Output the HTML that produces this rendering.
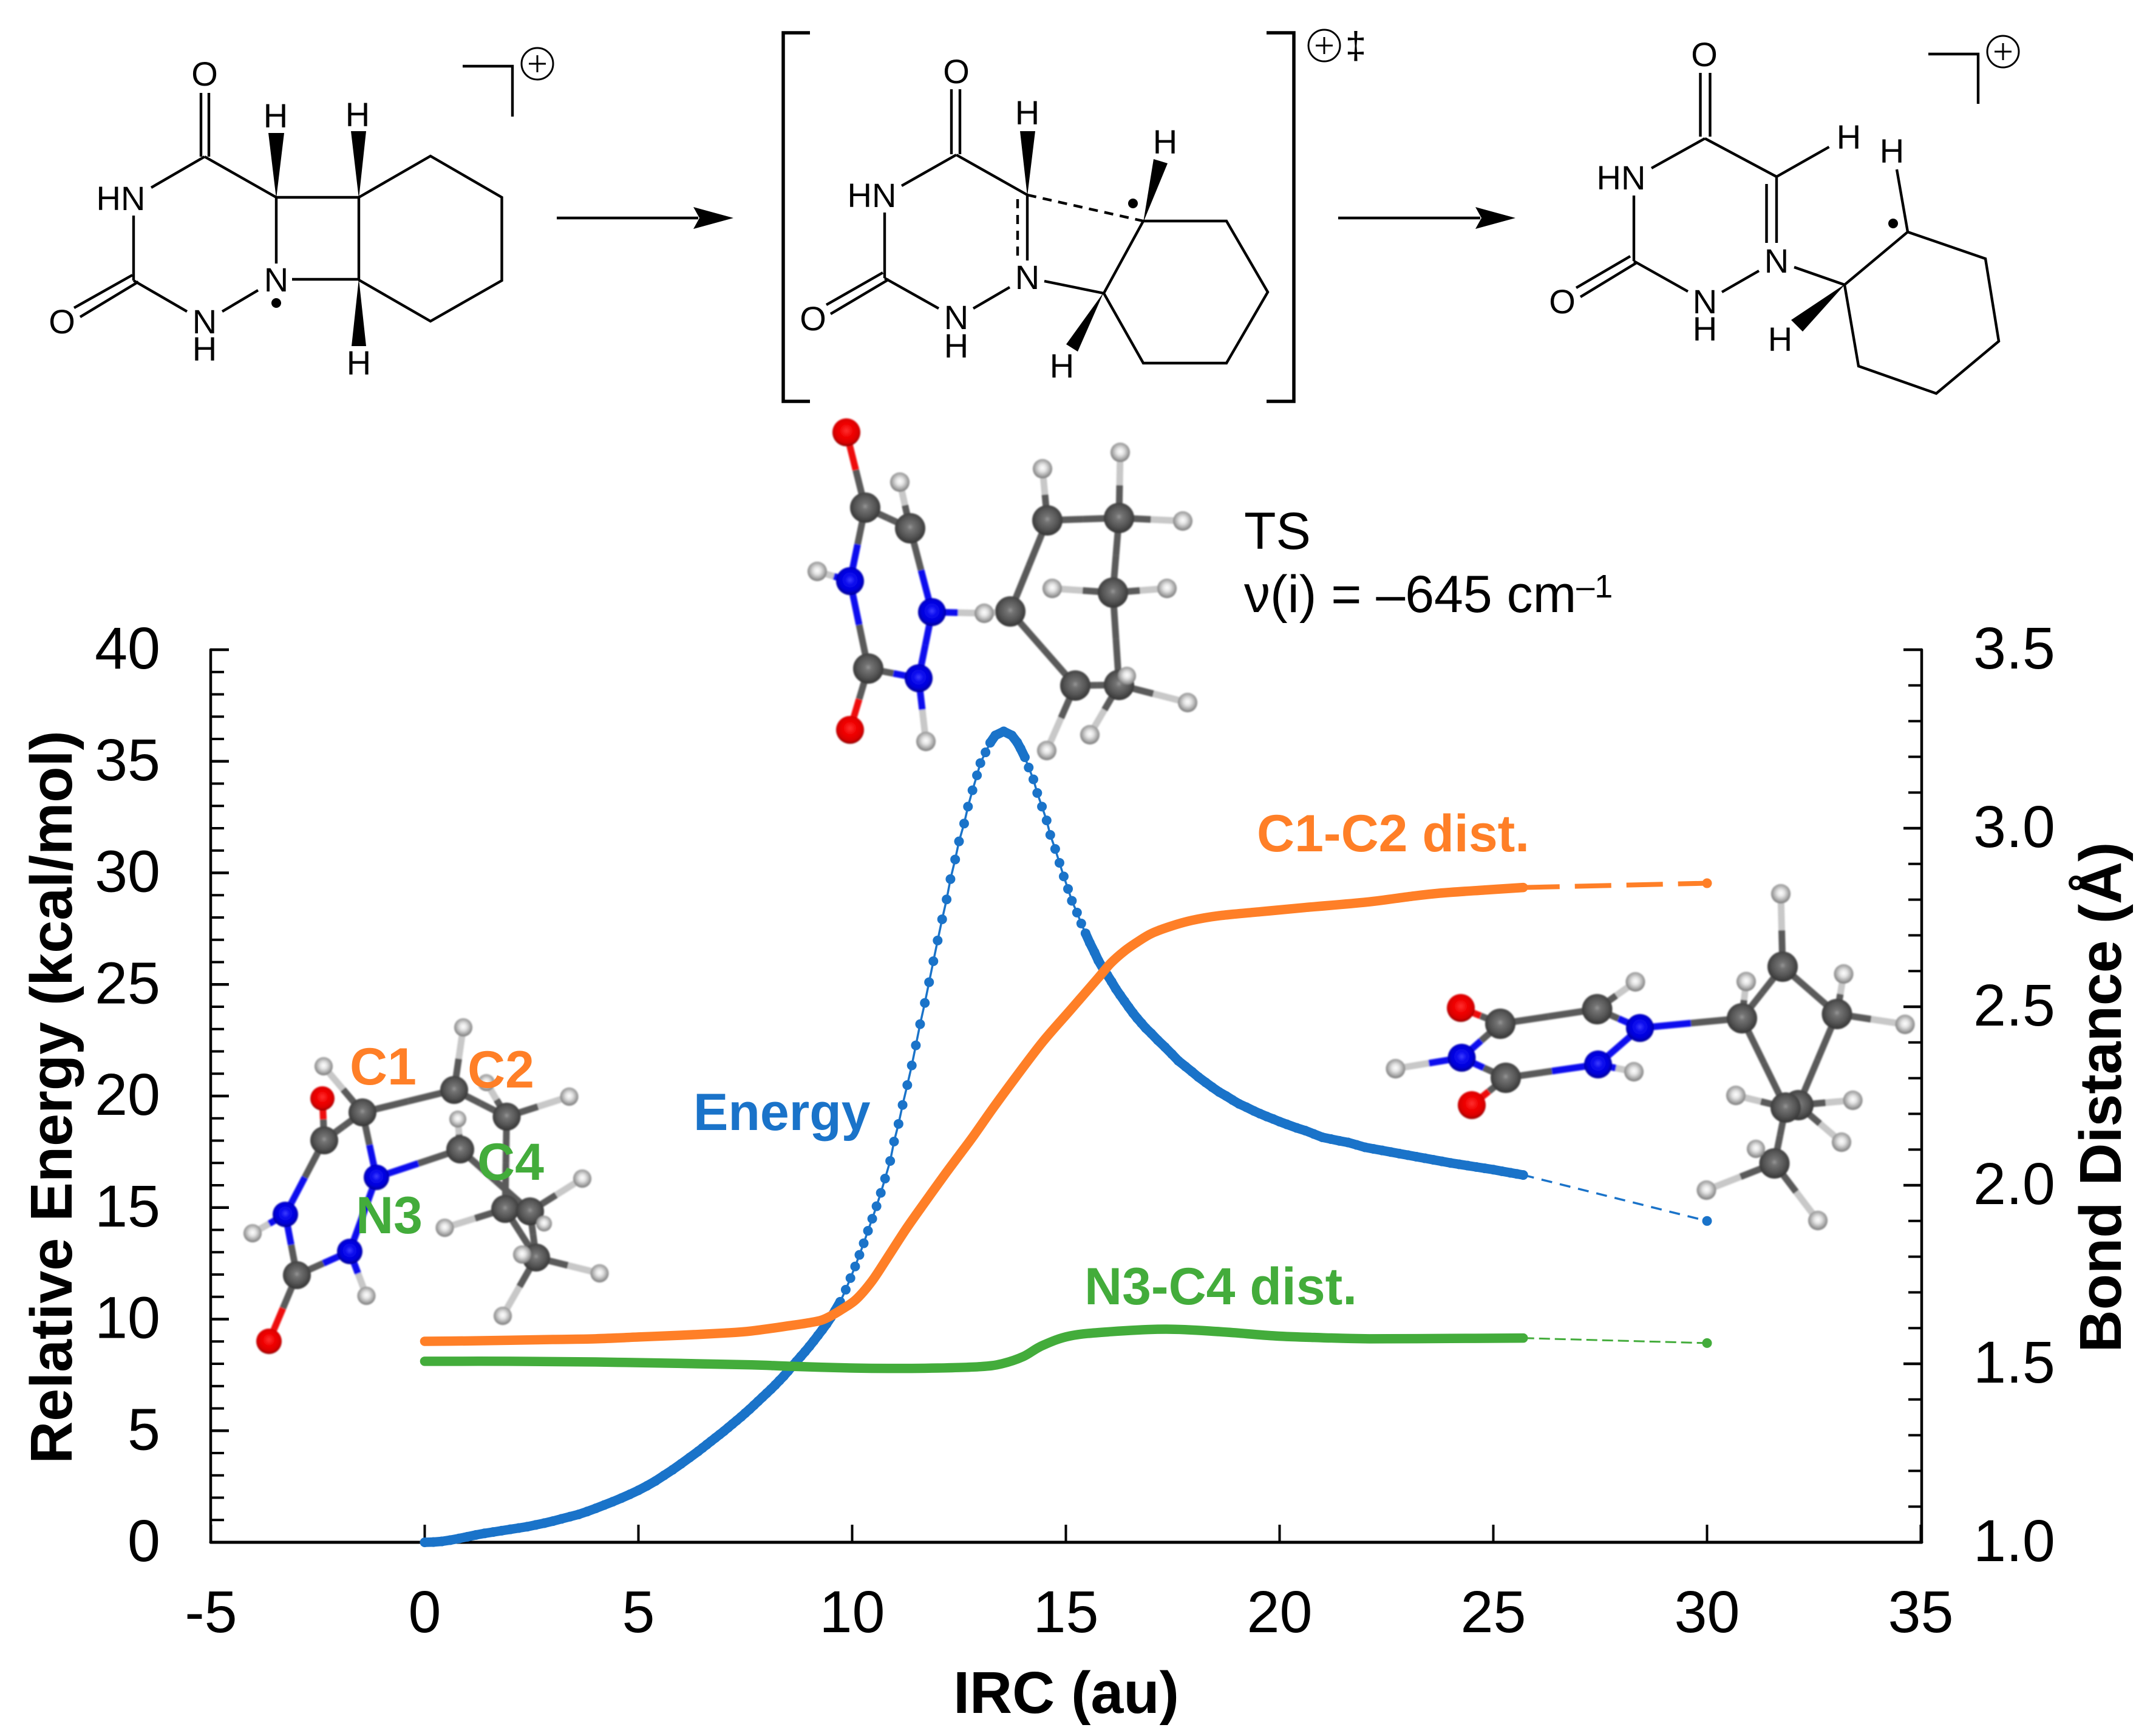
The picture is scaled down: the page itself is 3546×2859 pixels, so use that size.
<!DOCTYPE html>
<html lang="en">
<head>
<meta charset="utf-8">
<title>IRC energy and bond distance profile</title>
<style>
html,body{margin:0;padding:0;background:#fff;}
svg{display:block;}
text{font-family:"Liberation Sans",Arial,sans-serif;}
.chem{font-size:56px;text-anchor:middle;fill:#000;}
.bond{fill:none;stroke:#000;stroke-width:4.4;}
.tick{font-size:97px;fill:#000;}
.title{font-size:97px;font-weight:bold;fill:#000;text-anchor:middle;}
.lab{font-size:86px;font-weight:bold;}
</style>
</head>
<body>
<svg id="fig" xmlns="http://www.w3.org/2000/svg" width="3546" height="2859" viewBox="0 0 3546 2859">
<defs>
<radialGradient id="gC" cx=".5" cy=".46" r=".56"><stop offset="0" stop-color="#9a9a9a"/><stop offset=".18" stop-color="#747474"/><stop offset=".62" stop-color="#545454"/><stop offset="1" stop-color="#303030"/></radialGradient>
<radialGradient id="gH" cx=".5" cy=".46" r=".56"><stop offset="0" stop-color="#ffffff"/><stop offset=".35" stop-color="#e2e2e2"/><stop offset=".75" stop-color="#a0a0a0"/><stop offset="1" stop-color="#6c6c6c"/></radialGradient>
<radialGradient id="gN" cx=".5" cy=".46" r=".56"><stop offset="0" stop-color="#4040ff"/><stop offset=".3" stop-color="#0c0cf0"/><stop offset=".7" stop-color="#0000d8"/><stop offset="1" stop-color="#00008c"/></radialGradient>
<radialGradient id="gO" cx=".5" cy=".44" r=".56"><stop offset="0" stop-color="#ff3030"/><stop offset=".45" stop-color="#f00000"/><stop offset=".8" stop-color="#d80000"/><stop offset="1" stop-color="#8c0000"/></radialGradient>
<filter id="soft" x="-5%" y="-5%" width="110%" height="110%"><feGaussianBlur stdDeviation="1.4"/></filter>
</defs>
<rect x="0" y="0" width="3546" height="2859" fill="#fff"/>

<!-- Reactant structure -->
<g>
<path class="bond" d="M331 153V258M344 153V258M337 258L249 309M337 258L455 325M455 325H591M455 325V434M591 325V461M591 325L709 257L826.5 325V462L709 529L591 461M481 460H591M220 355V462M220 462L308 513M366 513L425 478M218 453L122 507M228 464L132 522"/>
<path fill="#000" d="M455 327L442 219H468ZM591 327L578 216H603ZM591 459L579 570H603Z"/>
<circle cx="455" cy="499" r="8" fill="#000"/>
<text class="chem" x="337" y="141">O</text>
<text class="chem" x="454" y="210">H</text>
<text class="chem" x="589" y="208">H</text>
<text class="chem" x="199" y="346">HN</text>
<text class="chem" x="455" y="480">N</text>
<text class="chem" x="337" y="549">N</text>
<text class="chem" x="337" y="594">H</text>
<text class="chem" x="102" y="549">O</text>
<text class="chem" x="591" y="617">H</text>
<path class="bond" d="M762 109H844V192"/>
<g><circle cx="885" cy="105" r="26" fill="none" stroke="#000" stroke-width="3"/><path d="M871 105H899M885 91V119" stroke="#000" stroke-width="3"/></g>
</g>

<g><path d="M917 359H1150" stroke="#000" stroke-width="4.5"/><path d="M1208 359L1142 341L1152 359L1142 377Z" fill="#000"/></g>

<!-- Transition state structure -->
<g>
<path class="bond" d="M1567 147V254M1581 147V254M1575 255L1485 306M1575 255L1692 321M1692 321V429M1457 350V458M1457 458L1546 508M1603 508L1663 473M1454 449L1361 502M1464 460L1368 517M1720 463L1818 483M1883 364H2020L2088 481L2020 598H1883L1818 483L1883 364"/>
<path class="bond" stroke-dasharray="15 11" d="M1676 328V431M1692 321L1883 364"/>
<path fill="#000" d="M1692 323L1680 216H1705ZM1883 366L1900 262L1923 269ZM1818 481L1756 567L1775 579Z"/>
<circle cx="1866" cy="335" r="8" fill="#000"/>
<text class="chem" x="1575" y="137">O</text>
<text class="chem" x="1692" y="205">H</text>
<text class="chem" x="1919" y="253">H</text>
<text class="chem" x="1436" y="341">HN</text>
<text class="chem" x="1692" y="476">N</text>
<text class="chem" x="1575" y="542">N</text>
<text class="chem" x="1575" y="589">H</text>
<text class="chem" x="1339" y="544">O</text>
<text class="chem" x="1749" y="622">H</text>
<path class="bond" style="stroke-width:5.5" d="M1334 54H1290V661H1334"/>
<path class="bond" style="stroke-width:5.5" d="M2086 54H2131V661H2086"/>
<g><circle cx="2181" cy="75" r="26" fill="none" stroke="#000" stroke-width="3"/><path d="M2167 75H2195M2181 61V89" stroke="#000" stroke-width="3"/></g>
<text x="2233" y="96" font-size="62" text-anchor="middle">‡</text>
</g>

<g><path d="M2204 359H2438" stroke="#000" stroke-width="4.5"/><path d="M2496 359L2430 341L2440 359L2430 377Z" fill="#000"/></g>

<!-- Product structure -->
<g>
<path class="bond" d="M2800.5 120V225M2816.5 120V225M2808 228L2720 277M2808 228L2926 291M2926 291L3012.5 242M2909.5 303V400M2926 291V400M2691 322V430M2691 430L2780 480M2836 481L2897 446M2685 422L2596 474M2695 433L2603 489M2955 440L3038 469M3038 469L3142 382L3270 426L3292 562L3189 648L3061 603L3038 469M3124 279L3142 382"/>
<path fill="#000" d="M3040 467L2950 527L2969 546Z"/>
<circle cx="3118" cy="368" r="8" fill="#000"/>
<text class="chem" x="2807" y="109">O</text>
<text class="chem" x="3045" y="245">H</text>
<text class="chem" x="3116" y="268">H</text>
<text class="chem" x="2670" y="312">HN</text>
<text class="chem" x="2926" y="449">N</text>
<text class="chem" x="2808" y="516">N</text>
<text class="chem" x="2808" y="561">H</text>
<text class="chem" x="2573" y="516">O</text>
<text class="chem" x="2932" y="578">H</text>
<path class="bond" d="M3176 89H3258V171"/>
<g><circle cx="3299" cy="85" r="26" fill="none" stroke="#000" stroke-width="3"/><path d="M3285 85H3313M3299 71V99" stroke="#000" stroke-width="3"/></g>
</g>

<!-- Chart frame -->
<g id="axes"></g>
<g id="molecules" filter="url(#soft)"></g>
<g id="series"></g>

<!-- Annotations -->
<text x="2049" y="904" font-size="86">TS</text>
<text x="2049" y="1008" font-size="86">ν(i) = –645 cm<tspan font-size="54" dy="-24">–1</tspan></text>
<text class="lab" x="1142" y="1861" fill="#1a73c9">Energy</text>
<text class="lab" x="2070" y="1402" fill="#ff7f27">C1-C2 dist.</text>
<text class="lab" x="1786" y="2148" fill="#43ac3b">N3-C4 dist.</text>
<text class="lab" x="576" y="1786" fill="#ff7f27">C1</text>
<text class="lab" x="770" y="1791" fill="#ff7f27">C2</text>
<text class="lab" x="786" y="1943" fill="#43ac3b">C4</text>
<text class="lab" x="586" y="2031" fill="#43ac3b">N3</text>
<text class="title" transform="translate(118 1807) rotate(-90)" x="0" y="0">Relative Energy (kcal/mol)</text>
<text class="title" transform="translate(3493 1807) rotate(-90)" x="0" y="0">Bond Distance (Å)</text>
<text class="title" x="1756" y="2821">IRC (au)</text>

<script>
/* ---------- chart data ---------- */
const xTickValues = [-5, 0, 5, 10, 15, 20, 25, 30, 35];
const energyTickValues = [0, 5, 10, 15, 20, 25, 30, 35, 40];
const distanceTickLabels = ["1.0", "1.5", "2.0", "2.5", "3.0", "3.5"];

const energyIrc = [
0,.2,.4,.6,.8,1,1.2,1.4,1.6,1.8,2,2.2,2.4,2.6,2.8,3,3.2,3.4,3.6,3.8,
4,4.2,4.4,4.6,4.8,5,5.2,5.4,5.6,5.8,6,6.2,6.4,6.5,6.6,6.7,6.8,6.9,7,7.1,
7.2,7.3,7.4,7.5,7.6,7.7,7.8,7.9,8,8.1,8.2,8.3,8.4,8.5,8.6,8.7,8.8,8.9,9,9.1,
9.2,9.3,9.4,9.5,9.6,9.72,9.85,9.96,10.07,10.17,10.27,10.37,10.47,10.57,10.67,10.77,10.89,
10.98,11.085,11.18,11.29,11.395,11.49,11.59,11.7,11.8,11.9,12,12.105,12.21,12.3,12.41,12.5,12.62,12.71,12.815,12.92,13,13.12,13.23,13.35,13.545,
13.735,13.86,13.94,14.04,14.13,14.24,14.33,14.44,14.55,14.635,14.75,14.85,14.95,15.05,15.14,15.26,15.36,15.46,15.56,15.67,15.76,15.87,
15.97,16.07,16.17,16.27,16.37,16.47,16.57,16.67,16.77,16.87,17,17.15,17.32,17.48,17.63,17.8,17.95,18.1,18.27,18.42,18.585,18.75,18.9,19.05,19.22,
19.4,19.54,19.7,19.85,20,20.17,20.4,20.6,20.8,21,21.2,21.4,21.6,21.8,22,22.2,22.4,22.6,22.8,23,
23.2,23.4,23.6,23.8,24,24.2,24.4,24.6,24.8,25,25.2,25.4,25.55,25.7];
const energyKcal = [
0,.01,.04,.1,.17,.25,.33,.4,.46,.52,.58,.64,.7,.78,.86,.95,1.05,1.15,1.25,1.38,
1.52,1.67,1.82,1.98,2.15,2.33,2.53,2.75,3,3.25,3.52,3.8,4.08,4.23,4.38,4.53,4.68,4.83,4.98,5.14,
5.3,5.46,5.62,5.79,5.96,6.14,6.32,6.5,6.68,6.86,7.05,7.25,7.45,7.67,7.9,8.11,8.33,8.55,8.78,9.02,
9.27,9.52,9.78,10.07,10.38,10.78,11.32,11.84,12.36,12.88,13.4,13.96,14.5,15.06,15.66,16.3,17.09,
17.96,18.75,19.6,20.49,21.37,22.27,23.22,24.17,25.1,26.04,26.97,27.92,28.81,29.72,30.6,31.41,32.21,32.97,33.7,34.37,34.92,35.4,35.83,36.16,36.34,
36.16,35.85,35.57,35.18,34.72,34.19,33.58,32.97,32.35,31.7,31.07,30.45,29.84,29.28,28.75,28.22,27.73,27.29,26.86,26.44,26.07,25.71,
25.42,25.12,24.8,24.52,24.25,23.98,23.72,23.48,23.26,23.04,22.8,22.5,22.19,21.88,21.58,21.32,21.09,20.85,20.61,20.4,20.18,20,19.82,19.65,19.5,
19.33,19.21,19.08,18.97,18.85,18.73,18.57,18.45,18.3,18.15,18.07,17.99,17.92,17.81,17.7,17.63,17.56,17.49,17.42,17.35,
17.28,17.21,17.14,17.07,17,16.94,16.88,16.82,16.76,16.7,16.63,16.56,16.51,16.46];
const energyTailIrc = [25.7, 30];
const energyTailKcal = [16.46, 14.4];

const c1c2Irc = [0,1,2,3,4,5,6,7,7.65,8.56,9,9.28,9.5,9.74,10.09,10.46,10.82,11.27,11.73,12.18,12.54,12.82,13.32,13.83,14.46,15.1,15.73,16.05,16.37,16.68,17,17.44,17.95,18.585,19.54,20.6,22.03,23,23.74,24.8,25.7];
const c1c2Dist = [1.563,1.564,1.566,1.568,1.57,1.575,1.58,1.586,1.592,1.607,1.615,1.622,1.634,1.651,1.68,1.731,1.796,1.879,1.957,2.032,2.09,2.135,2.22,2.303,2.402,2.49,2.577,2.622,2.656,2.682,2.705,2.725,2.742,2.755,2.766,2.778,2.793,2.808,2.818,2.827,2.834];
const c1c2TailIrc = [25.7, 30];
const c1c2TailDist = [2.834, 2.846];

const n3c4Irc = [0,2,4,6,7.65,8.56,10,11,12,13,13.5,14,14.45,15.1,16.06,17.35,18.6,19.9,21,22.1,24,25.7];
const n3c4Dist = [1.507,1.507,1.505,1.501,1.497,1.493,1.488,1.487,1.488,1.492,1.5,1.52,1.551,1.578,1.59,1.597,1.59,1.578,1.573,1.57,1.571,1.572];
const n3c4TailIrc = [25.7, 30];
const n3c4TailDist = [1.572, 1.558];

/* ---------- axis functions ---------- */
const NS = "http://www.w3.org/2000/svg";
const xAxis = v => 699.5 + 70.4 * v;
const energyAxis = v => 2540 - 36.75 * v;
const distanceAxis = v => 2540 - 588 * (v - 1);
const axesG = document.getElementById("axes");
const seriesG = document.getElementById("series");

function svgLine(parent, x1, y1, x2, y2, color, width, dash) {
  const l = document.createElementNS(NS, "line");
  l.setAttribute("x1", x1);
  l.setAttribute("y1", y1);
  l.setAttribute("x2", x2);
  l.setAttribute("y2", y2);
  l.setAttribute("stroke", color);
  l.setAttribute("stroke-width", width);
  l.setAttribute("stroke-linecap", dash ? "butt" : "round");
  if (dash) l.setAttribute("stroke-dasharray", dash);
  parent.appendChild(l);
  return l;
}
function svgText(parent, x, y, str, anchor) {
  const t = document.createElementNS(NS, "text");
  t.setAttribute("x", x);
  t.setAttribute("y", y);
  t.setAttribute("class", "tick");
  t.setAttribute("text-anchor", anchor);
  t.textContent = str;
  parent.appendChild(t);
  return t;
}
function smoothPath(px, py) {
  let d = "M" + px[0] + " " + py[0];
  for (let i = 0; i < px.length - 1; i++) {
    const a = Math.max(i - 1, 0), b = Math.min(i + 2, px.length - 1);
    const c1x = px[i] + (px[i + 1] - px[a]) / 6, c1y = py[i] + (py[i + 1] - py[a]) / 6;
    const c2x = px[i + 1] - (px[b] - px[i]) / 6, c2y = py[i + 1] - (py[b] - py[i]) / 6;
    d += "C" + c1x + " " + c1y + " " + c2x + " " + c2y + " " + px[i + 1] + " " + py[i + 1];
  }
  return d;
}

/* axis lines */
const leftSpine = svgLine(axesG, 347, 1070, 347, 2540, "#000", 4.5);


const rightSpine = svgLine(axesG, 3165, 1070, 3165, 2540, "#000", 4.5);


const bottomSpine = svgLine(axesG, 347, 2540, 3165, 2540, "#000", 5);



/* x ticks */
xTickValues.forEach(v => {
  const tk = svgLine(axesG, xAxis(v), 2540, xAxis(v), 2511, "#000", 4);
  tk.setAttribute("stroke-linecap", "butt");
  
  
  const lb = svgText(axesG, xAxis(v), 2688, String(v), "middle");
  
  
});

/* left y ticks: minor each 1 kcal/mol */
for (let i = 0; i <= 40; i++) {
  const major = i % 5 === 0;
  const tk = svgLine(axesG, 347, energyAxis(i), 347 + (major ? 30 : 22), energyAxis(i), "#000", major ? 4.5 : 4);
  tk.setAttribute("stroke-linecap", "butt");
  
  
}
energyTickValues.forEach(v => {
  const lb = svgText(axesG, 264, energyAxis(v) + 31, String(v), "end");
  
  
});

/* right y ticks: minor each 0.1 A */
for (let i = 0; i <= 25; i++) {
  const major = i % 5 === 0;
  const d = 1 + i / 10;
  const tk = svgLine(axesG, 3165, distanceAxis(d), 3165 - (major ? 30 : 22), distanceAxis(d), "#000", major ? 4.5 : 4);
  tk.setAttribute("stroke-linecap", "butt");
  
  
}
distanceTickLabels.forEach(s => {
  const lb = svgText(axesG, 3250, distanceAxis(parseFloat(s)) + 31, s, "start");
  
  
});

/* series */
function drawSeries(name, color, xs, ys, tailX, tailY, yAxisFn, thickGap, tailWidth, tailDash) {
  const g = document.createElementNS(NS, "g");
  
  
  seriesG.appendChild(g);
  const px = xs.map(xAxis);
  const py = ys.map(yAxisFn);
  if (thickGap === null) {
    const band = document.createElementNS(NS, "path");
    band.setAttribute("d", smoothPath(px, py));
    band.setAttribute("fill", "none");
    band.setAttribute("stroke", color);
    band.setAttribute("stroke-width", 15.5);
    band.setAttribute("stroke-linecap", "round");
    
    
    g.appendChild(band);
  } else {
    for (let i = 1; i < px.length; i++) {
      const gap = Math.hypot(px[i] - px[i - 1], py[i] - py[i - 1]);
      const seg = svgLine(g, px[i - 1], py[i - 1], px[i], py[i], color, gap <= thickGap ? 15.5 : 3.5);
      
      
    }
    for (let i = 0; i < px.length; i++) {
      const c = document.createElementNS(NS, "circle");
      c.setAttribute("cx", px[i]);
      c.setAttribute("cy", py[i]);
      c.setAttribute("r", 8);
      c.setAttribute("fill", color);
      
      
      g.appendChild(c);
    }
  }
  const tail = svgLine(g, xAxis(tailX[0]), yAxisFn(tailY[0]), xAxis(tailX[1]), yAxisFn(tailY[1]), color, tailWidth, tailDash);
  
  
  const end = document.createElementNS(NS, "circle");
  end.setAttribute("cx", xAxis(tailX[1]));
  end.setAttribute("cy", yAxisFn(tailY[1]));
  end.setAttribute("r", 8);
  end.setAttribute("fill", color);
  
  
  g.appendChild(end);
}
drawSeries("energy", "#1a73c9", energyIrc, energyKcal, energyTailIrc, energyTailKcal, energyAxis, 17.5, 3.5, "18 13");
drawSeries("c1-c2-distance", "#ff7f27", c1c2Irc, c1c2Dist, c1c2TailIrc, c1c2TailDist, distanceAxis, null, 8, "60 25");
drawSeries("n3-c4-distance", "#43ac3b", n3c4Irc, n3c4Dist, n3c4TailIrc, n3c4TailDist, distanceAxis, null, 3, "18 8");
</script>

<script>
/* ---------- ball-and-stick illustrations (not chart data) ---------- */
(function () {
  const SVGNS = "http://www.w3.org/2000/svg";
  const root = document.getElementById("molecules");
  const bondColor = { C: "#5a5a5a", N: "#0808ee", O: "#ee0a0a", H: "#c8c8c8" };

  const tsAtoms = [
    ["O1","O",1394,712,23],["C1","C",1425,836,25],["H1","H",1482,794,16],["C2","C",1499,870,25],
    ["N1","N",1400,957,23],["H2","H",1346,941,16],["N2","N",1535,1008,23],["H3","H",1621,1010,16],
    ["C3","C",1664,1007,25],["C4","C",1430,1101,25],["N3","N",1513,1117,23],["O2","O",1400,1202,23],
    ["H4","H",1525,1221,16],["C5","C",1725,857,25],["C6","C",1843,853,25],["H5","H",1717,772,16],
    ["H6","H",1845,745,16],["H7","H",1948,858,16],["C7","C",1833,976,25],["H8","H",1733,969,16],
    ["H9","H",1922,969,16],["C8","C",1771,1129,25],["C9","C",1843,1128,25],["H11","H",1956,1157,16],
    ["H12","H",1795,1210,16],["H13","H",1724,1236,16],["H10","H",1856,1113,15]
  ];
  const tsBonds = "O1-C1 C1-C2 C1-N1 C2-H1 C2-N2 N1-H2 N1-C4 C4-O2 C4-N3 N3-N2 N3-H4 N2-H3 H3-C3 C3-C5 C3-C8 C5-H5 C5-C6 C6-H6 C6-H7 C6-C7 C7-H8 C7-H9 C7-C9 C8-C9 C8-H13 C9-H12 C9-H11 C9-H10";

  const reactantAtoms = [
    ["H1","H",533,1756,15],["O1","O",531,1809,20],["C1","C",597,1832,23],["H2","H",763,1692,15],
    ["H3","H",801,1783,14],["C2","C",748,1795,23],["C3","C",834.5,1839,23],["H4","H",937.5,1806,15],
    ["C5","C",534,1878,23],["H5","H",754,1843,14],["C4","C",758,1893,23],["N3","N",620,1939,21],
    ["N1","N",470,2000,21],["H6","H",416,2031,15],["N2","N",576,2061,21],["C6","C",489,2100,23],
    ["H7","H",603.5,2134,15],["O2","O",443,2209,21],["C7","C",832,1991,23],["C8","C",873,1995,23],
    ["H8","H",959,1941,15],["H9","H",732.5,2022,15],["H10","H",896,2015,13],["C9","C",883,2071,23],
    ["H11","H",860,2066,15],["H12","H",987.5,2097,15],["H13","H",828,2167,15]
  ];
  const reactantBonds = "C1-H1 C1-C2 C1-C5 C1-N3 C2-H2 C2-C3 C3-H3 C3-H4 C3-C7 C5-O1 C5-N1 N1-H6 N1-C6 C6-N2 C6-O2 N2-H7 N2-N3 N3-C4 C4-H5 C4-C8 C7-H9 C8-H8 C8-H10 C8-C9 C7-C9 C9-H11 C9-H12 C9-H13";

  const productAtoms = [
    ["O1","O",2406,1660,23],["H1","H",2693.5,1617,16],["H2","H",2298.5,1760,16],["H3","H",2691,1765,16],
    ["O2","O",2424,1820,23],["C1","C",2471,1686,25],["C2","C",2630.5,1662,25],["N1","N",2701,1693,23],
    ["N2","N",2407.5,1742,23],["C3","C",2480,1775,25],["N3","N",2632,1753,23],["H4","H",2876,1616.5,16],
    ["C4","C",2869,1677,25],["H5","H",2933,1472,16],["C5","C",2936,1592,25],["H6","H",3036.5,1604,16],
    ["H7","H",3137.6,1687,16],["C6","C",3025.5,1670,25],["H8","H",2859,1804,16],["H9","H",3051.6,1812,16],
    ["H10","H",3033,1881,16],["C8","C",2962,1820,25],["C7","C",2941,1824,25],["H11","H",2810.5,1960,16],
    ["H12","H",2994,2010,16],["C9","C",2922.5,1916,25],["H13","H",2892,1892,15]
  ];
  const productBonds = "O1-C1 C1-C2 C1-N2 C2-H1 C2-N1 N1-N3 N1-C4 N2-H2 N2-C3 C3-O2 C3-N3 N3-H3 C4-H4 C4-C5 C4-C7 C5-H5 C5-C6 C6-H6 C6-H7 C6-C8 C7-H8 C8-H9 C8-H10 C7-C9 C9-H11 C9-H12 C9-H13";

  function half(parent, a, bx, by, w) {
    const l = document.createElementNS(SVGNS, "line");
    l.setAttribute("x1", a[2]);
    l.setAttribute("y1", a[3]);
    l.setAttribute("x2", bx);
    l.setAttribute("y2", by);
    l.setAttribute("stroke", bondColor[a[1]]);
    l.setAttribute("stroke-width", w);
    
    
    parent.appendChild(l);
  }
  function model(name, atoms, bonds, w) {
    const g = document.createElementNS(SVGNS, "g");
    
    
    root.appendChild(g);
    const map = {};
    atoms.forEach(a => { map[a[0]] = a; });
    bonds.split(" ").forEach(s => {
      const p = s.split("-");
      const a = map[p[0]], b = map[p[1]];
      const mx = (a[2] + b[2]) / 2, my = (a[3] + b[3]) / 2;
      half(g, a, mx, my, w);
      half(g, b, mx, my, w);
    });
    atoms.forEach(a => {
      const c = document.createElementNS(SVGNS, "circle");
      c.setAttribute("cx", a[2]);
      c.setAttribute("cy", a[3]);
      c.setAttribute("r", a[4]);
      c.setAttribute("fill", "url(#g" + a[1] + ")");
      
      
      g.appendChild(c);
    });
  }
  model("transition-state-model", tsAtoms, tsBonds, 11);
  model("reactant-model", reactantAtoms, reactantBonds, 11);
  model("product-model", productAtoms, productBonds, 11);
})();
</script>
</svg>
</body>
</html>
